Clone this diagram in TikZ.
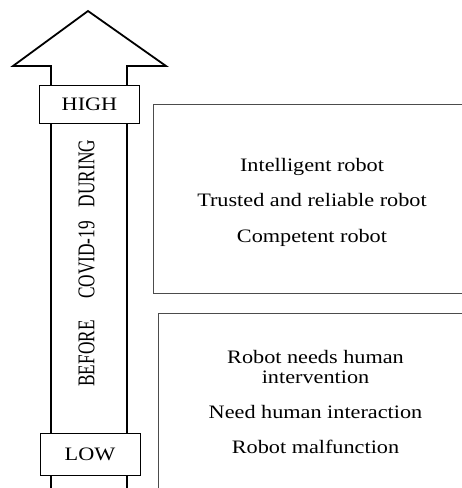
\documentclass[tikz,border=0pt]{standalone}
\usepackage{fontspec}
\setmainfont{Liberation Serif}
\newfontfamily\hfont[FakeStretch=1.17]{Liberation Serif}
\newfontfamily\vfont[FakeStretch=0.72]{Liberation Serif}
\begin{document}
\begin{tikzpicture}[x=1pt,y=-1pt,
  arrowline/.style={line width=1.8pt, line join=miter},
  levelbox/.style={draw, line width=1pt, fill=white, minimum width=100pt, minimum height=38pt, inner sep=0pt, font=\hfont\fontsize{19}{19}\selectfont},
  groupbox/.style={draw=black!70, line width=1pt, inner sep=0pt},
  item/.style={font=\hfont\fontsize{19}{20.5}\selectfont, align=center, inner sep=0pt},
  oneline/.style={text height=0.7em, text depth=0.22em},
  phase/.style={rotate=90, font=\vfont\fontsize{24}{24}\selectfont, inner sep=0pt, text height=0.66em, text depth=0pt}]
\useasboundingbox (0,0) rectangle (462,488);
\clip (0,0) rectangle (462,488);
% arrow
\draw[arrowline] (51,495) -- (51,66) -- (13,66) -- (88,11) -- (166,66) -- (127,66) -- (127,495);
% level boxes
\node[levelbox] (high) at (89.5,104.5) {HIGH};
\node[levelbox, minimum height=42pt] (low) at (90,454) {LOW};
% phases
\node[phase] (during) at (91,173.5) {DURING};
\node[phase] (covid) at (91,260) {COVID-19};
\node[phase] (before) at (91,353.5) {BEFORE};
% group boxes
\node[groupbox, minimum width=317pt, minimum height=189pt, anchor=north west] (upper) at (153,104) {};
\node[groupbox, minimum width=316pt, minimum height=185pt, anchor=north west] (lower) at (158,313) {};
% items
\node[item, oneline] (i1) at (312,169) {Intelligent robot};
\node[item, oneline] (i2) at (312,204) {Trusted and reliable robot};
\node[item, oneline] (i3) at (312,240) {Competent robot};
\node[item] (j1) at (315.5,367) {Robot needs human\\intervention};
\node[item, oneline] (j2) at (315.5,416) {Need human interaction};
\node[item, oneline] (j3) at (315.5,451) {Robot malfunction};
\end{tikzpicture}
\end{document}
